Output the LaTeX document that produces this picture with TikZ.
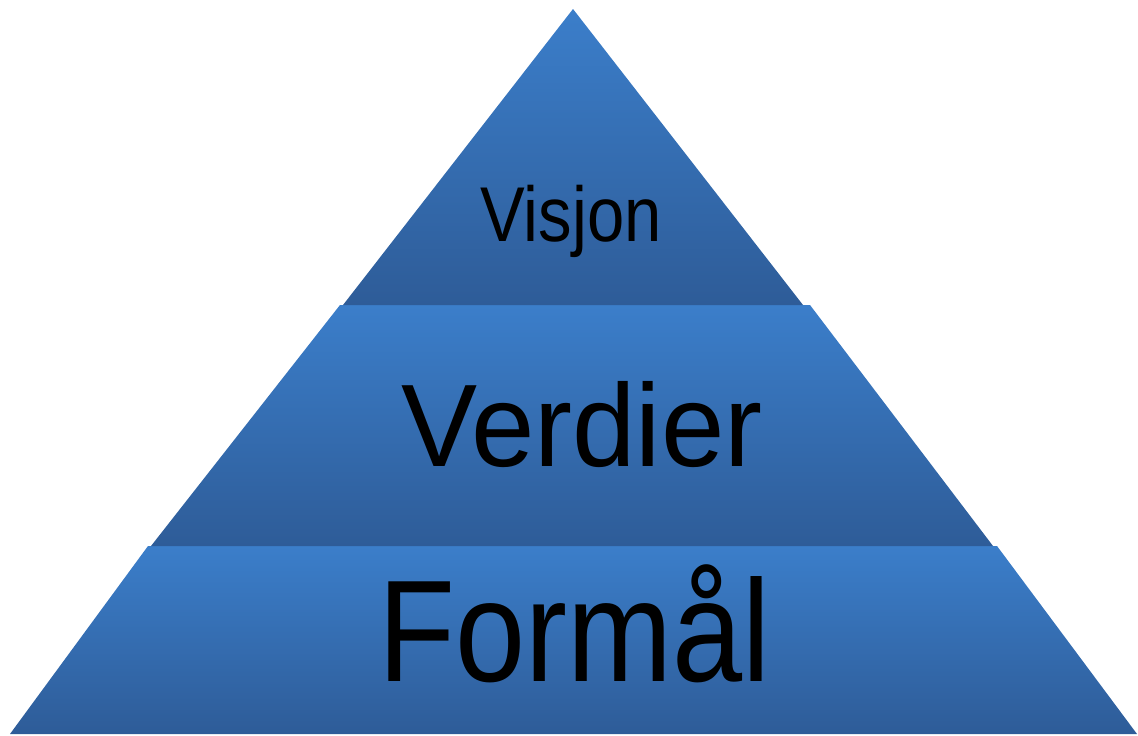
\documentclass[tikz,border=0pt]{standalone}
\usepackage{fontspec}
\setmainfont{Liberation Sans}
\definecolor{bandtop}{RGB}{59,126,202}
\definecolor{bandbot}{RGB}{46,92,152}
\begin{document}
\begin{tikzpicture}[x=1pt,y=-1pt,
  band/.style={top color=bandtop,bottom color=bandbot,draw=none},
  lbl/.style={anchor=base,inner sep=0pt,text=black}]
\useasboundingbox (0,0) rectangle (1138,736);
% bottom band
\path[band] (148,546) -- (997,546) -- (1137,734) -- (10,734) -- cycle;
% middle band
\path[band] (340,305) -- (810,305) -- (993,546) -- (151,546) -- cycle;
% top band
\path[band] (573,9) -- (803,305) -- (343,305) -- cycle;
\node[lbl,yscale=1.16] (visjon) at (571,241) {\fontsize{67}{72}\selectfont Visjon};
\node[lbl,yscale=1.03] (verdier) at (582,466) {\fontsize{114}{120}\selectfont Verdier};
\node[lbl,yscale=1.15] (formal) at (574.5,681) {\fontsize{126}{132}\selectfont Formål};
\end{tikzpicture}
\end{document}
